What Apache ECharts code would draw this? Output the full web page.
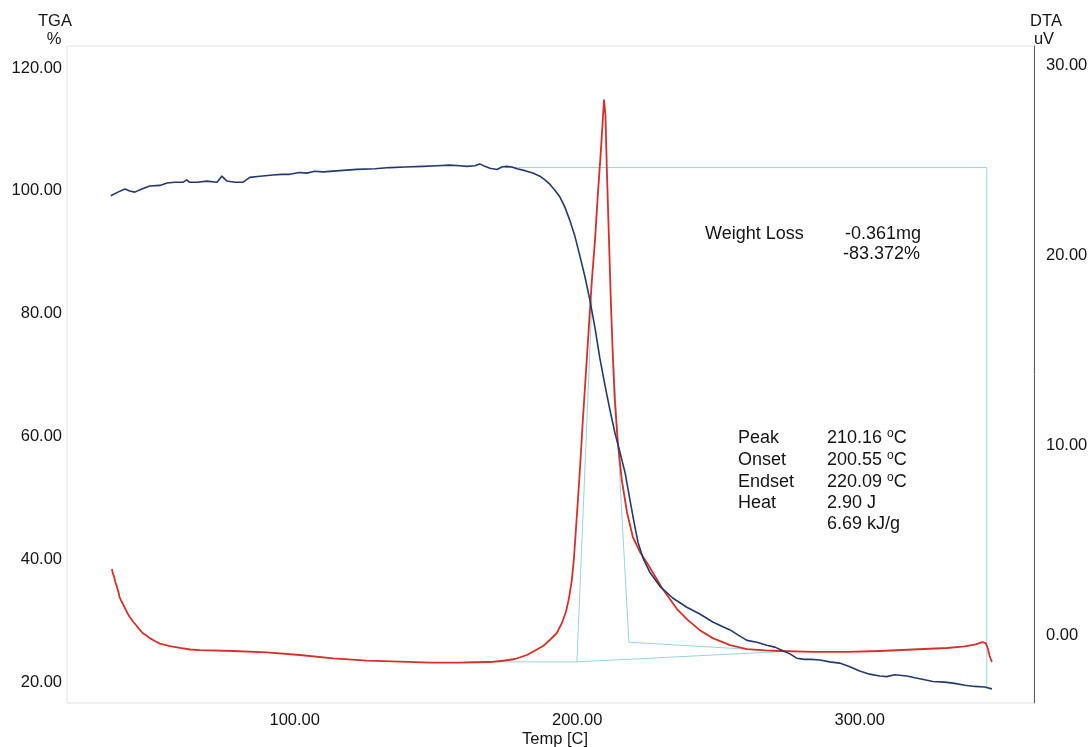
<!DOCTYPE html>
<html lang="en">
<head>
<meta charset="UTF-8">
<title>TGA / DTA</title>
<style>
    html, body {
        margin: 0;
        padding: 0;
        background: #fff;
    }

    #main {
        width: 1090px;
        height: 747px;
    }
</style>
</head>
<body>
<div id="main"></div>
<script src="https://cdn.jsdelivr.net/npm/echarts@6/dist/echarts.min.js"></script>
<script>
    // TGA curve (left axis, %)
    let tgaTemp = [34.9, 37.4, 39.9, 41.6, 43.4, 45.9, 48.7, 52.3, 54.8, 57.6, 60.4, 61.8, 62.8, 65.6, 68.9, 72.5,
        74.2, 76.0, 78.8, 81.6, 84.1, 87.7, 92.3, 95.4, 98.2, 101.7, 104.3, 107.1, 110.0, 116.0, 122.0, 128.4,
        133.7, 139.0, 145.4, 150.3, 154.9, 158.5, 161.0, 163.8, 165.5, 167.3, 169.1, 171.6, 173.3, 175.1, 176.9,
        178.7, 181.5, 184.3, 186.8, 188.6, 190.3, 192.1, 193.9, 195.6, 197.4, 199.2, 200.9, 202.7, 204.5, 206.3,
        208.0, 209.8, 211.6, 213.3, 215.1, 217.0, 218.7, 220.1, 221.5, 223.3, 225.7, 229.3, 233.8, 238.8, 243.4,
        248.0, 251.2, 254.1, 257.6, 260.1, 263.6, 267.1, 270.0, 272.8, 275.3, 277.7, 280.5, 283.0, 285.9, 289.4,
        292.9, 296.5, 300.0, 303.5, 307.1, 309.6, 312.4, 316.7, 319.5, 323.0, 325.9, 330.1, 333.6, 337.2, 340.7,
        344.2, 346.8]
    let tgaPct = [99.2, 99.8, 100.3, 100.0, 99.8, 100.3, 100.8, 100.9, 101.3, 101.4, 101.4, 101.8, 101.4, 101.4,
        101.6, 101.4, 102.4, 101.6, 101.4, 101.4, 102.2, 102.4, 102.6, 102.7, 102.7, 103.0, 102.9, 103.2, 103.1,
        103.3, 103.5, 103.6, 103.8, 103.9, 104.0, 104.1, 104.2, 104.1, 104.0, 104.1, 104.4, 104.0, 103.7, 103.5,
        103.9, 104.0, 103.9, 103.6, 103.3, 102.9, 102.4, 101.8, 101.1, 100.1, 99.0, 97.4, 95.2, 92.6, 89.5, 86.1,
        82.2, 77.7, 72.8, 68.4, 64.3, 60.7, 57.5, 54.0, 49.6, 46.1, 42.8, 40.2, 37.9, 35.6, 33.7, 32.2, 31.1,
        29.8, 29.1, 28.5, 27.5, 26.8, 26.5, 26.0, 25.7, 25.1, 24.6, 23.9, 23.7, 23.7, 23.6, 23.3, 23.1, 22.5,
        21.8, 21.3, 21.0, 20.9, 21.2, 21.0, 20.7, 20.4, 20.1, 20.0, 19.8, 19.5, 19.3, 19.2, 18.9]

    // DTA curve (right axis, uV)
    let dtaTemp = [35.3, 35.6, 36.0, 36.5, 37.1, 37.6, 38.0, 39.0, 39.9, 40.8, 41.6, 42.9, 44.1, 45.2, 46.2, 47.5,
        48.7, 50.5, 52.3, 54.1, 55.8, 59.4, 63.0, 66.4, 78.1, 90.1, 101.8, 113.6, 125.6, 137.2, 147.9, 158.5,
        169.1, 174.4, 178.0, 182.2, 185.4, 187.9, 190.3, 192.8, 194.6, 196.0, 197.1, 198.1, 198.8, 199.9, 201.0,
        202.0, 203.1, 204.2, 205.2, 206.3, 207.3, 208.4, 209.1, 209.5, 210.0, 210.5, 211.2, 211.9, 212.6, 213.3,
        214.4, 215.8, 217.6, 219.7, 222.2, 225.0, 227.5, 230.0, 232.8, 235.3, 239.2, 243.4, 248.0, 254.1, 260.1,
        266.5, 271.8, 283.5, 295.5, 307.2, 318.8, 330.9, 337.2, 340.7, 343.5, 344.6, 345.3, 346.0, 346.8]
    let dtaUv = [3.48, 3.27, 3.11, 2.80, 2.53, 2.27, 2.00, 1.69, 1.43, 1.16, 0.95, 0.69, 0.48, 0.27, 0.11, -0.02,
        -0.16, -0.31, -0.45, -0.52, -0.58, -0.68, -0.76, -0.79, -0.84, -0.91, -1.05, -1.23, -1.35, -1.40, -1.45,
        -1.45, -1.42, -1.34, -1.26, -1.05, -0.79, -0.58, -0.26, 0.11, 0.64, 1.22, 1.95, 2.90, 3.96, 6.33, 8.81,
        11.34, 13.87, 16.40, 18.71, 20.82, 23.20, 25.56, 27.26, 28.20, 27.41, 24.51, 21.09, 17.66, 14.76, 12.39,
        10.12, 8.17, 6.49, 5.17, 4.38, 3.74, 3.11, 2.48, 1.90, 1.37, 0.79, 0.26, -0.16, -0.53, -0.74, -0.81,
        -0.84, -0.89, -0.89, -0.84, -0.76, -0.68, -0.60, -0.50, -0.37, -0.42, -0.68, -1.10, -1.42]

    // analysis construction lines, [temp, TGA %]
    let stepTop = [[174.4, 103.8], [345.0, 103.8]]
    let stepEnd = [[345.0, 103.8], [345.0, 19.0]]
    let baseLeft = [[160.2, 23.3], [199.9, 23.3]]
    let onsetLine = [[199.9, 23.3], [205.2, 82.2]]
    let baseMain = [[199.9, 23.3], [273.5, 25.0]]
    let baseEnd = [[218.3, 26.5], [273.5, 25.0]]
    let endsetLine = [[218.3, 26.5], [212.6, 74.1]]

    let tempTicks = [100, 200, 300]
    let tgaTicks = [20, 40, 60, 80, 100, 120]
    let dtaTicks = [0, 10, 20, 30]

    const FONT = '"Liberation Sans", Arial, sans-serif'
    const zip = (a, b) => a.map((v, i) => [v, b[i]])

    function txt(x, y, text, size, align, rich) {
        let style = {
            text: text,
            font: size + 'px ' + FONT,
            fill: '#141414',
            textAlign: align || 'left',
            textVerticalAlign: 'middle',
            align: align || 'left',
            verticalAlign: 'middle'
        }
        if (rich) {
            style.rich = rich
            style.lineHeight = 20
        }
        return {type: 'text', x: x, y: y, style: style, z: 100}
    }

    function cyan(data) {
        return {
            type: 'line',
            data: data,
            yAxisIndex: 0,
            showSymbol: false,
            silent: true,
            z: 1,
            lineStyle: {color: '#98d2dc', width: 1}
        }
    }

    const sup = {
        s: {fontSize: 12, fontFamily: 'Liberation Sans', verticalAlign: 'top', lineHeight: 14, fill: '#141414'}
    }

    let myChart = echarts.init(document.querySelector('#main'))
    let labelStyle = {fontSize: 16.5, color: '#141414', fontFamily: FONT, formatter: v => Number(v).toFixed(2)}

    let option = {
        animation: false,
        textStyle: {fontFamily: FONT},
        grid: {
            left: 67, right: 56, top: 46, bottom: 44,
            show: true, borderColor: '#e2e2e2', borderWidth: 1,
            outerBoundsMode: 'none'
        },
        xAxis: {
            type: 'value', min: 19.4, max: 361.7,
            axisLine: {show: false}, axisTick: {show: false}, splitLine: {show: false},
            axisLabel: Object.assign({customValues: tempTicks, margin: 9}, labelStyle)
        },
        yAxis: [
            {
                type: 'value', position: 'left', min: 16.6, max: 123.6,
                axisLine: {show: false}, axisTick: {show: false}, splitLine: {show: false},
                axisLabel: Object.assign({customValues: tgaTicks, margin: 5}, labelStyle)
            },
            {
                type: 'value', position: 'right', min: -3.58, max: 31.05,
                axisLine: {show: true, lineStyle: {color: '#5a5a5a', width: 1}},
                axisTick: {show: false}, splitLine: {show: false},
                axisLabel: Object.assign({customValues: dtaTicks, margin: 12}, labelStyle)
            }
        ],
        graphic: [
            txt(55, 21, 'TGA', 16.5, 'center'),
            txt(54, 39, '%', 16.5, 'center'),
            txt(1046, 21, 'DTA', 16.5, 'center'),
            txt(1044, 39, 'uV', 16.5, 'center'),
            txt(555, 739, 'Temp [C]', 16.5, 'center'),
            txt(705, 234, 'Weight Loss', 18),
            txt(845, 234, '-0.361mg', 18),
            txt(843, 254, '-83.372%', 18),
            txt(738, 438, 'Peak', 18),
            txt(738, 460, 'Onset', 18),
            txt(738, 482, 'Endset', 18),
            txt(738, 503, 'Heat', 18),
            txt(827, 438, '210.16 {s|o}C', 18, 'left', sup),
            txt(827, 460, '200.55 {s|o}C', 18, 'left', sup),
            txt(827, 482, '220.09 {s|o}C', 18, 'left', sup),
            txt(827, 503, '2.90 J', 18),
            txt(827, 524, '6.69 kJ/g', 18)
        ],
        series: [
            cyan(stepTop),
            cyan(stepEnd),
            cyan(baseLeft),
            cyan(onsetLine),
            cyan(baseMain),
            cyan(baseEnd),
            cyan(endsetLine),
            {
                name: 'DTA',
                type: 'line',
                yAxisIndex: 1,
                data: zip(dtaTemp, dtaUv),
                showSymbol: false,
                z: 3,
                lineStyle: {color: '#d4302c', width: 1.8, join: 'round'}
            },
            {
                name: 'TGA',
                type: 'line',
                yAxisIndex: 0,
                data: zip(tgaTemp, tgaPct),
                showSymbol: false,
                z: 4,
                lineStyle: {color: '#233a6c', width: 1.6, join: 'round'}
            }
        ]
    }
    myChart.setOption(option)
</script>
</body>
</html>
